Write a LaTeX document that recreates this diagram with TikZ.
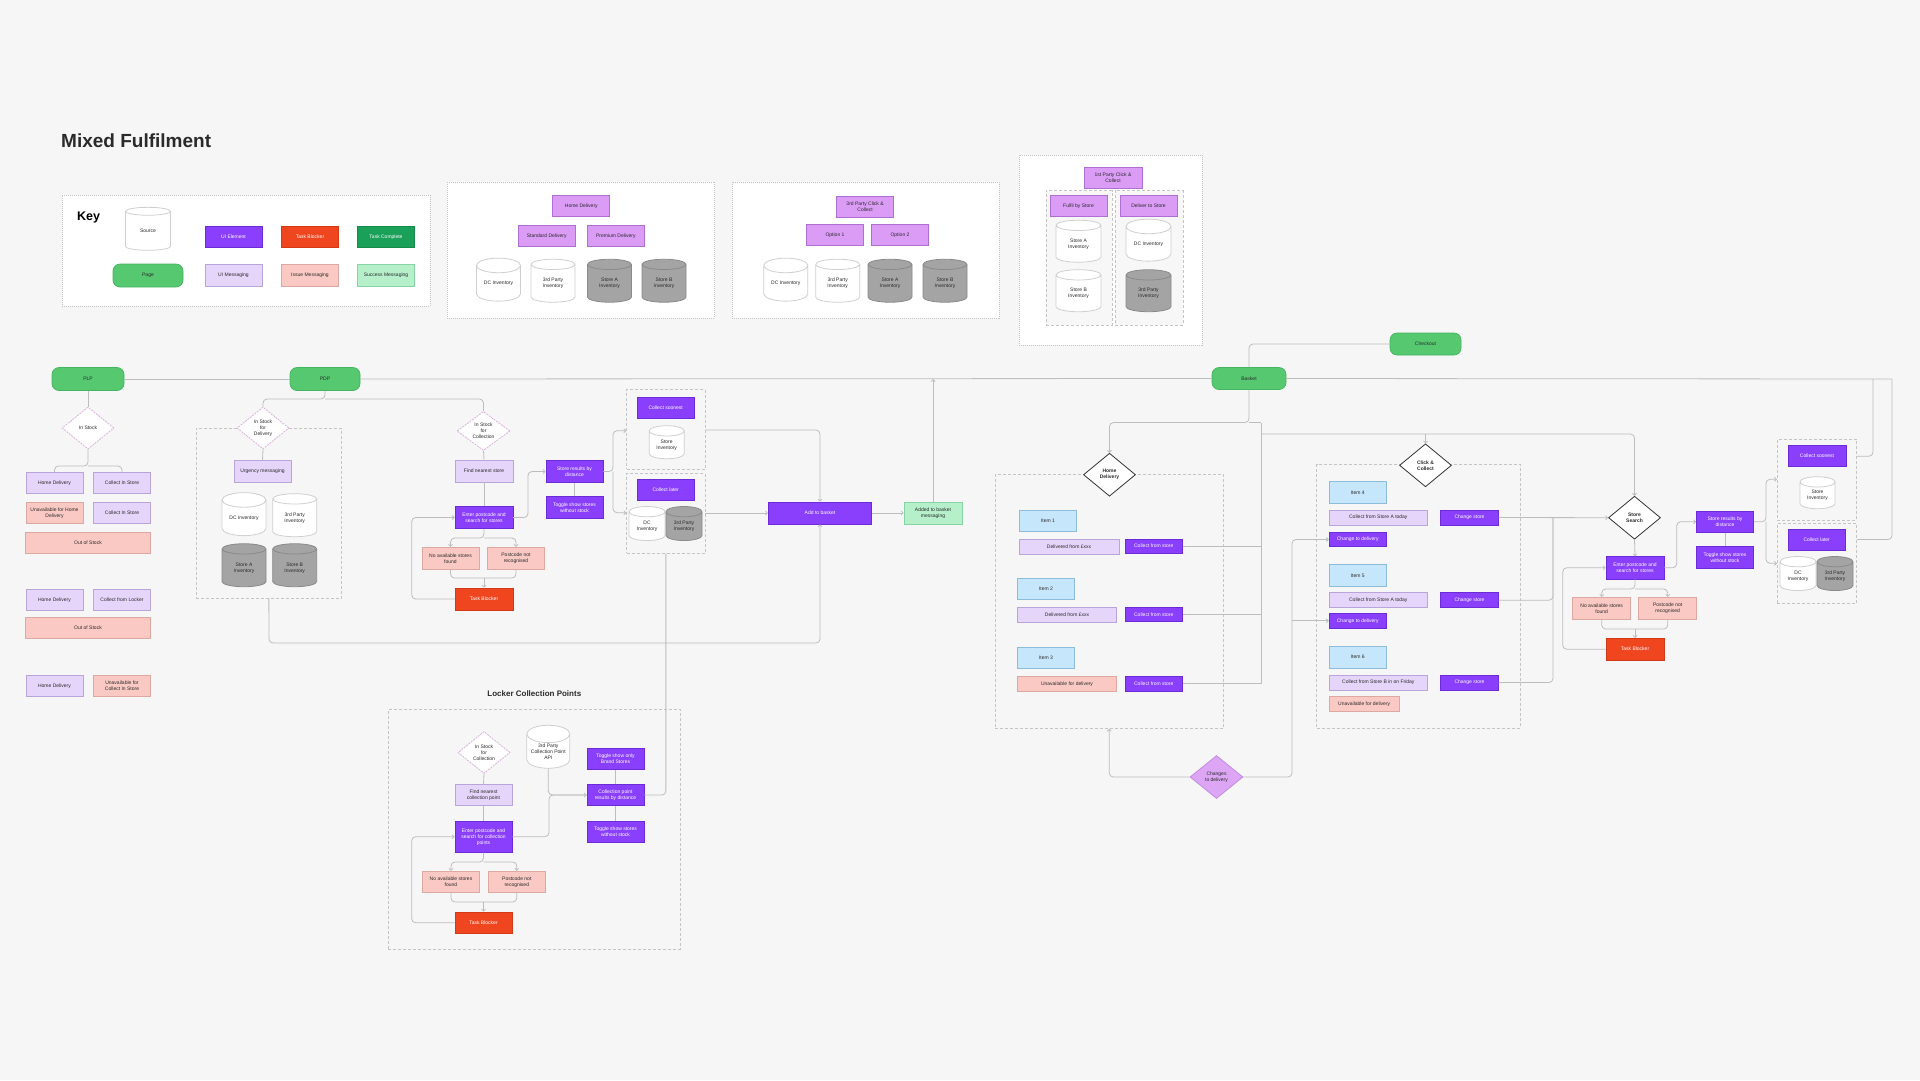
\documentclass[tikz,border=0pt]{standalone}
\usepackage{fontspec}
\setmainfont{Liberation Sans}
\usetikzlibrary{shapes.geometric,arrows.meta,calc}
\definecolor{bg}{HTML}{F6F6F6}
\definecolor{uiel}{HTML}{8A3FFC}
\definecolor{uielb}{HTML}{6B2BD6}
\definecolor{blockc}{HTML}{F0461F}
\definecolor{blockb}{HTML}{D23A17}
\definecolor{compc}{HTML}{1BA05A}
\definecolor{compb}{HTML}{168A4C}
\definecolor{pagec}{HTML}{55C870}
\definecolor{pageb}{HTML}{45B460}
\definecolor{uimsg}{HTML}{E6D5FB}
\definecolor{uimsgb}{HTML}{B9A4DB}
\definecolor{issue}{HTML}{FBC9C3}
\definecolor{issueb}{HTML}{DDA8A1}
\definecolor{succ}{HTML}{B5F0CB}
\definecolor{succb}{HTML}{86D4A3}
\definecolor{optc}{HTML}{DB9CF6}
\definecolor{optb}{HTML}{AE6FD0}
\definecolor{itemc}{HTML}{C6E6FB}
\definecolor{itemb}{HTML}{8CBDDC}
\definecolor{cylb}{HTML}{CFCFCF}
\definecolor{cylg}{HTML}{A4A4A4}
\definecolor{cylgb}{HTML}{8A8A8A}
\definecolor{conn}{HTML}{BDBDBD}
\definecolor{framec}{HTML}{C4C4C4}
\definecolor{txt}{HTML}{2A2A2A}
\definecolor{pinkd}{HTML}{D9B2DA}
\definecolor{chdc}{HTML}{DCA6F5}
\definecolor{chdb}{HTML}{C48BE3}
\tikzset{
 base/.style={rectangle, inner sep=0pt, align=center, font=\fontsize{5}{6}\selectfont, text=txt, line width=0.7pt, minimum width=57, minimum height=21.5},
 uie/.style={base, fill=uiel, draw=uielb, text=white},
 uim/.style={base, fill=uimsg, draw=uimsgb},
 iss/.style={base, fill=issue, draw=issueb},
 suc/.style={base, fill=succ, draw=succb},
 blk/.style={base, fill=blockc, draw=blockb, text=white},
 cmp/.style={base, fill=compc, draw=compb, text=white},
 opt/.style={base, fill=optc, draw=optb},
 itm/.style={base, fill=itemc, draw=itemb},
 pagebox/.style={base, fill=pagec, draw=pageb, rounded corners=7pt, minimum width=72, minimum height=23},
 src/.style={shape=cylinder, shape border rotate=90, aspect=0.5, draw=cylb, fill=white, line width=0.8pt, minimum width=42, minimum height=43, inner sep=0pt, align=center, font=\fontsize{5}{6}\selectfont, text=txt},
 srcg/.style={src, fill=cylg, draw=cylgb},
 framebox/.style={rectangle, draw=framec, fill=white, line width=0.8pt, dash pattern=on 1pt off 1pt, inner sep=0pt},
 grp/.style={rectangle, draw=framec, line width=0.7pt, dash pattern=on 3pt off 2pt, inner sep=0pt},
 pdia/.style={shape=diamond, draw=pinkd, fill=white, line width=0.8pt, dash pattern=on 2pt off 1pt, inner sep=0pt, minimum width=52, minimum height=42, align=center, font=\fontsize{5}{6}\selectfont, text=txt},
 ddia/.style={shape=diamond, draw=black!80, fill=white, line width=0.8pt, inner sep=0pt, minimum width=52, minimum height=43, align=center, font=\fontsize{5}{6}\selectfont\bfseries, text=txt},
 cdia/.style={shape=diamond, draw=chdb, fill=chdc, line width=0.8pt, inner sep=0pt, minimum width=53, minimum height=43, align=center, font=\fontsize{5}{6}\selectfont, text=txt},
 con/.style={draw=conn, line width=0.8pt, rounded corners=4pt},
 arr/.style={con, -{Straight Barb[length=2pt,width=4pt]}},
}
\begin{document}
\begin{tikzpicture}[x=1pt,y=-1pt]
\fill[bg] (0,0) rectangle (1920,1080);
\useasboundingbox (0,0) rectangle (1920,1080);

% Title
\node[anchor=west, font=\fontsize{19}{22}\selectfont\bfseries, text=txt, inner sep=0] (title) at (61,141) {Mixed Fulfilment};

% ---------- Key
\node[framebox, minimum width=368, minimum height=111] (keybox) at (246,250.5) {};
\node[font=\fontsize{12.5}{14}\selectfont\bfseries, text=black, inner sep=0] (keylbl) at (88.5,217) {Key};
\node[src, minimum width=45] (ksrc) at (148,231) {Source};
\node[uie] (kui) at (233.5,237) {UI Element};
\node[blk] (kblk) at (310,237) {Task Blocker};
\node[cmp] (kcmp) at (386,237) {Task Complete};
\node[pagebox, minimum width=70] (kpage) at (148,275.5) {Page};
\node[uim] (kuim) at (233.5,275.5) {UI Messaging};
\node[iss] (kiss) at (310,275.5) {Issue Messaging};
\node[suc] (ksuc) at (386,275.5) {Success Messaging};

% ---------- Home delivery frame
\node[framebox, minimum width=267.2, minimum height=136] (f1) at (580.9,250) {};
\node[opt] (f1hd) at (581.3,206) {Home Delivery};
\node[opt] (f1std) at (546.7,236) {Standard Delivery};
\node[opt] (f1prm) at (615.8,236) {Premium Delivery};
\node[src, minimum width=44] (f1dc) at (498.5,283.5) {DC Inventory};
\node[src, minimum width=44] (f1tp) at (553,283.5) {3rd Party\\Inventory};
\node[srcg, minimum width=44] (f1sa) at (609.5,283.5) {Store A\\Inventory};
\node[srcg, minimum width=44] (f1sb) at (664,283.5) {Store B\\Inventory};

% ---------- 3rd party click & collect frame
\node[framebox, minimum width=266.9, minimum height=136] (f2) at (865.5,250) {};
\node[opt, minimum width=57.4] (f2cc) at (865.1,207) {3rd Party Click \&\\Collect};
\node[opt] (f2o1) at (835,235) {Option 1};
\node[opt] (f2o2) at (900,235) {Option 2};
\node[src, minimum width=44] (f2dc) at (785.8,283.5) {DC Inventory};
\node[src, minimum width=44] (f2tp) at (837.7,283.5) {3rd Party\\Inventory};
\node[srcg, minimum width=44] (f2sa) at (890,283.5) {Store A\\Inventory};
\node[srcg, minimum width=44] (f2sb) at (945,283.5) {Store B\\Inventory};

% ---------- 1st party click & collect frame
\node[framebox, minimum width=183, minimum height=190] (f3) at (1110.5,250) {};
\node[grp, fill=black!3, minimum width=66, minimum height=134.3] (f3l) at (1079,257.85) {};
\node[grp, fill=black!3, minimum width=68, minimum height=134.3] (f3r) at (1149,257.85) {};
\node[opt, minimum width=58, minimum height=21] (f3cc) at (1113,177.5) {1st Party Click \&\\Collect};
\node[opt] (f3fs) at (1078.5,206) {Fulfil by Store};
\node[opt] (f3ds) at (1148.5,206) {Deliver to Store};
\node[src, minimum width=45, minimum height=42] (f3sa) at (1078.5,244) {Store A\\Inventory};
\node[src, minimum width=45, minimum height=42] (f3sb) at (1078.5,293.5) {Store B\\Inventory};
\node[src, minimum width=45, minimum height=42] (f3dc) at (1148.5,244) {DC Inventory};
\node[srcg, minimum width=45, minimum height=42] (f3tp) at (1148.5,293.5) {3rd Party\\Inventory};

% ---------- PLP
\node[pagebox] (plp) at (88,379) {PLP};
\node[pdia] (dplp) at (88,428) {In Stock};
\node[uim] (hd1) at (54.5,483) {Home Delivery};
\node[uim] (cis1) at (122,483) {Collect In Store};
\node[iss] (uhd) at (54.5,513) {Unavailable for Home\\Delivery};
\node[uim] (cis2) at (122,513) {Collect In Store};
\node[iss, minimum width=125] (oos1) at (88,543) {Out of Stock};
\node[uim] (hd2) at (54.5,600) {Home Delivery};
\node[uim] (cfl) at (122,600) {Collect from Locker};
\node[iss, minimum width=125] (oos2) at (88,628) {Out of Stock};
\node[uim] (hd3) at (54.5,686) {Home Delivery};
\node[iss] (ucis) at (122,686) {Unavailable for\\Collect In Store};

% ---------- PDP
\node[pagebox, minimum width=70] (pdp) at (325,379) {PDP};
\node[grp, minimum width=145.7, minimum height=170] (pdpgrp) at (268.85,513) {};
\node[pdia] (ddel) at (263,428) {In Stock\\for\\Delivery};
\node[uim] (urg) at (262.5,471.5) {Urgency messaging};
\node[src, minimum width=44] (pdc) at (244,518) {DC Inventory};
\node[src, minimum width=44] (ptp) at (294.7,518) {3rd Party\\Inventory};
\node[srcg, minimum width=44] (psa) at (244,568) {Store A\\Inventory};
\node[srcg, minimum width=44] (psb) at (294.7,568) {Store B\\Inventory};

% ---------- Collection
\node[pdia, minimum width=53, minimum height=39] (dcol) at (483.5,431) {In Stock\\for\\Collection};
\node[uim, minimum width=57.7, minimum height=22] (fns) at (484,471) {Find nearest store};
\node[uie, minimum width=57.7, minimum height=22] (epc) at (484,517.5) {Enter postcode and\\search for stores};
\node[iss, minimum height=22] (nas) at (450.5,558.3) {No available stores\\found};
\node[iss, minimum height=22] (pnr) at (516,558.3) {Postcode not\\recognised};
\node[blk, minimum width=57.7, minimum height=22] (tb1) at (484,599) {Task Blocker};
\node[uie] (srd) at (574.5,471.5) {Store results by\\distance};
\node[uie] (tss) at (574.5,507.5) {Toggle show stores\\without stock};
\node[grp, minimum width=78.3, minimum height=80] (soon1) at (665.85,429.3) {};
\node[grp, minimum width=78.3, minimum height=80] (later1) at (665.85,513.3) {};
\node[uie, minimum height=21] (cs1) at (665.7,407.8) {Collect soonest};
\node[src, minimum width=35, minimum height=33] (si1) at (666.7,445) {Store\\Inventory};
\node[uie, minimum height=21] (cl1) at (665.7,489.5) {Collect later};
\node[src, minimum width=36, minimum height=34] (dc1) at (647,526.3) {DC\\Inventory};
\node[srcg, minimum width=36, minimum height=34] (tp1) at (684,526.3) {3rd Party\\Inventory};

\node[uie, minimum width=103.4, minimum height=22] (addb) at (820,513) {Add to basket};
\node[suc, minimum width=58, minimum height=22] (addm) at (933,513) {Added to basket\\messaging};

% ---------- Locker
\node[font=\fontsize{8}{9}\selectfont\bfseries, text=txt, inner sep=0] (locktitle) at (534.3,694) {Locker Collection Points};
\node[grp, minimum width=291.7, minimum height=240] (lockgrp) at (534.15,829.3) {};
\node[pdia] (dlk) at (484,752.5) {In Stock\\for\\Collection};
\node[src, minimum width=43] (api) at (548.3,751.3) {3rd Party\\Collection Point\\API};
\node[uim] (fncp) at (483.5,795) {Find nearest\\collection point};
\node[uie, minimum height=31.3] (epcl) at (483.5,836.7) {Enter postcode and\\search for collection\\points};
\node[iss] (nas2) at (451,882) {No available stores\\found};
\node[iss] (pnr2) at (516.8,882) {Postcode not\\recognised};
\node[blk] (tb2) at (483.5,922.8) {Task Blocker};
\node[uie] (tsb) at (615.5,759) {Toggle show only\\Brand Stores};
\node[uie] (cpr) at (615.5,795) {Collection point\\results by distance};
\node[uie] (tss2) at (615.5,831.7) {Toggle show stores\\without stock};

% ---------- Basket
\node[pagebox, minimum width=74, minimum height=22] (basket) at (1249,378.5) {Basket};
\node[pagebox, minimum width=71, minimum height=22] (checkout) at (1425.5,344) {Checkout};

% ---------- Home delivery flow
\node[grp, minimum width=228.3, minimum height=254] (hdgrp) at (1109.2,601.3) {};
\node[ddia] (dhd) at (1109.5,474.7) {Home\\Delivery};
\node[itm] (it1) at (1048,520.8) {Item 1};
\node[uim, minimum width=99.7, minimum height=15] (dfx1) at (1069,546.5) {Delivered from £xxx};
\node[uie, minimum height=14.5] (cfs1) at (1153.7,546.2) {Collect from store};
\node[itm] (it2) at (1046,589) {Item 2};
\node[uim, minimum width=99.4, minimum height=15] (dfx2) at (1067,614.8) {Delivered from £xxx};
\node[uie, minimum height=14.5] (cfs2) at (1153.7,614.5) {Collect from store};
\node[itm] (it3) at (1046,658) {Item 3};
\node[iss, minimum width=99.4, minimum height=15] (ufd1) at (1067,684.2) {Unavailable for delivery};
\node[uie, minimum height=14.5] (cfs3) at (1153.7,683.8) {Collect from store};

\node[cdia] (chd) at (1216.5,777) {Changes\\to delivery};

% ---------- Click & collect flow
\node[grp, minimum width=203.3, minimum height=263.7] (ccgrp) at (1418.35,596.15) {};
\node[ddia] (dcc) at (1425.5,465.3) {Click \&\\Collect};
\node[itm] (it4) at (1357.7,492.5) {Item 4};
\node[uim, minimum width=98, minimum height=15] (cfa1) at (1378.3,517.5) {Collect from Store A today};
\node[uie, minimum width=57.6, minimum height=15] (chs1) at (1469.5,517.5) {Change store};
\node[uie, minimum height=14.5] (ctd1) at (1357.7,539.5) {Change to delivery};
\node[itm] (it5) at (1357.7,575.5) {Item 5};
\node[uim, minimum width=98, minimum height=15] (cfa2) at (1378.3,600.2) {Collect from Store A today};
\node[uie, minimum width=57.6, minimum height=15] (chs2) at (1469.5,600.2) {Change store};
\node[uie, minimum height=14.5] (ctd2) at (1357.7,620.8) {Change to delivery};
\node[itm] (it6) at (1357.7,657.2) {Item 6};
\node[uim, minimum width=98, minimum height=15] (cfb) at (1378.3,682.5) {Collect from Store B in on Friday};
\node[uie, minimum width=57.6, minimum height=15] (chs3) at (1469.5,682.5) {Change store};
\node[iss, minimum width=69.7, minimum height=15] (ufd2) at (1364.2,704.2) {Unavailable for delivery};

% ---------- Store search flow
\node[ddia] (dss) at (1634.5,517.7) {Store\\Search};
\node[uie, minimum width=58, minimum height=22.3] (epc3) at (1635,567.8) {Enter postcode and\\search for stores};
\node[iss, minimum width=58, minimum height=22] (nas3) at (1601.7,608.3) {No available stores\\found};
\node[iss, minimum width=58, minimum height=22] (pnr3) at (1667.7,608.3) {Postcode not\\recognised};
\node[blk, minimum width=58, minimum height=21.7] (tb3) at (1635,649.2) {Task Blocker};
\node[uie, minimum height=21] (srd2) at (1725,521.7) {Store results by\\distance};
\node[uie, minimum height=22] (tss3) at (1725,557.8) {Toggle show stores\\without stock};
\node[grp, minimum width=79.4, minimum height=80.7] (soon2) at (1817,479.65) {};
\node[grp, minimum width=79.4, minimum height=80] (later2) at (1817,563.3) {};
\node[uie, minimum width=57.7, minimum height=21] (cs2) at (1817,456.2) {Collect soonest};
\node[src, minimum width=35, minimum height=32] (si2) at (1817.5,495.5) {Store\\Inventory};
\node[uie, minimum width=56.7, minimum height=21] (cl2) at (1816.7,539.5) {Collect later};
\node[src, minimum width=36, minimum height=34] (dc2) at (1798,576.3) {DC\\Inventory};
\node[srcg, minimum width=36, minimum height=34] (tp2) at (1835,576.3) {3rd Party\\Inventory};

% ================= connectors
\coordinate (mr) at (1892,379);
\draw[con] (plp.east) -- (pdp.west);
\draw[con] (pdp.east) -- (basket.west);
\draw[con] (basket.east) -- (mr);
% PLP
\draw[con] (plp.south) -- (dplp.north);
\draw[con] (dplp.south) -- (88,466) -| (hd1.north);
\draw[con] (88,466) -| (cis1.north);
% PDP
\draw[con] (pdp.south) -- (325,399) -| (ddel.north);
\draw[con] (325,399) -| (dcol.north);
\draw[con] (ddel.south) -- (urg.north);
\draw[arr] (pdpgrp.south) -- (269,643) -| (addb.south);
% collection
\draw[con] (dcol.south) -- (fns.north);
\draw[con] (fns.south) -- (epc.north);
\draw[arr] (epc.east) -- (528,517.5) |- (srd.west);
\draw[con] (srd.south) -- (tss.north);
\draw[arr] (srd.east) -- (613,471.5) |- (soon1.west |- 0,430.7);
\draw[arr] (613,471.5) |- (later1.west |- 0,512.7);
\draw[arr] (epc.south) -- (484,538) -| (nas.north);
\draw[arr] (484,538) -| (pnr.north);
\draw[con] (nas.south) |- (484,578);
\draw[con] (pnr.south) |- (484,578);
\draw[arr] (484,578) -- (tb1.north);
\draw[arr] (tb1.west) -- (411.7,599) |- (epc.west);
\draw[arr] (soon1.east |- 0,430) -- (820,430) -- (addb.north);
\draw[arr] (later1.east |- addb.west) -- (addb.west);
\draw[con] (later1.south) -- (665.85,795) -- (cpr.east);
\draw[arr] (addb.east) -- (addm.west);
\draw[arr] (addm.north) -- (addm.north |- mr);
% locker
\draw[con] (dlk.south) -- (fncp.north);
\draw[con] (fncp.south) -- (epcl.north);
\draw[con] (epcl.east) -- (549,836.7) |- (cpr.west);
\draw[arr] (api.south) |- (cpr.west);
\draw[con] (tsb.south) -- (cpr.north);
\draw[con] (cpr.south) -- (tss2.north);
\draw[arr] (epcl.south) -- (483.5,862) -| (nas2.north);
\draw[arr] (483.5,862) -| (pnr2.north);
\draw[con] (nas2.south) |- (483.5,902);
\draw[con] (pnr2.south) |- (483.5,902);
\draw[arr] (483.5,902) -- (tb2.north);
\draw[arr] (tb2.west) -- (411.7,922.8) |- (epcl.west);
% basket
\draw[con] (basket.north) |- (checkout.west);
\draw[arr] (basket.south) -- (1249,422.5) -| (dhd.north);
\draw[con] (1249,422.5) -- (1261,422.5);
% home delivery
\draw[con] (cfs1.east) -- (1261,546.2);
\draw[con] (cfs2.east) -- (1261,614.5);
\draw[con] (cfs3.east) -- (1261,683.8);
\draw[con] (1261,683.8) -- (1261,422.5);
\draw[arr] (1261,434) -| (dss.north);
\draw[arr] (dcc.north |- 0,434) -- (dcc.north);
\draw[arr] (chd.west) -| (hdgrp.south);
\draw[arr] (chd.east) -- (1292,777) |- (ctd1.west);
\draw[arr] (1292,620.8) -- (ctd2.west);
% click & collect
\draw[arr] (chs1.east) -- (dss.west);
\draw[con] (chs2.east) -| (1553,517.6);
\draw[con] (chs3.east) -| (1553,517.6);
% store search
\draw[arr] (dss.south) -- (epc3.north);
\draw[arr] (epc3.south) -- (1635,589) -| (nas3.north);
\draw[arr] (1635,589) -| (pnr3.north);
\draw[con] (nas3.south) |- (1635,629);
\draw[con] (pnr3.south) |- (1635,629);
\draw[arr] (1635,629) -- (tb3.north);
\draw[arr] (tb3.west) -- (1562.7,649.2) |- (epc3.west);
\draw[arr] (epc3.east) -- (1676.7,567.8) |- (srd2.west);
\draw[con] (srd2.south) -- (tss3.north);
\draw[arr] (srd2.east) -- (1766,521.7) |- (soon2.west |- 0,479.3);
\draw[arr] (1766,521.7) |- (later2.west |- 0,563.3);
\draw[con] (soon2.east |- cs2.east) -- (1873,456.2) -- (1873,379);
\draw[con] (later2.east |- cl2.east) -- (1892,539.5) -- (mr);
\end{tikzpicture}
\end{document}
